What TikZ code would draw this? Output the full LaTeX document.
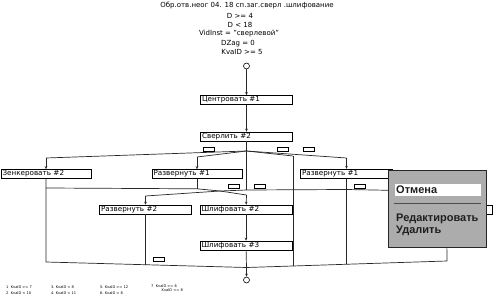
\documentclass[tikz,border=0pt]{standalone}
\usepackage{fontspec}
\setmainfont{DejaVu Sans}
\newfontfamily\popfont{Liberation Sans}
\usetikzlibrary{arrows.meta}
\definecolor{lncol}{RGB}{40,40,40}
\definecolor{popgray}{RGB}{172,172,172}
\tikzset{
  ln/.style={draw=lncol, line width=0.7pt},
  arr/.style={ln, -{Stealth[length=3pt,width=2.6pt]}},
  opbox/.style={draw=black, line width=0.6pt, fill=white, minimum width=92pt, minimum height=9pt,
     inner xsep=1.5pt, inner ysep=0pt, text width=89pt, align=left, font=\fontsize{7.2}{8}\selectfont},
  tag/.style={draw=black, line width=0.6pt, fill=white, minimum width=11pt, minimum height=3.5pt, inner sep=0pt},
  term/.style={circle, draw=black, line width=0.6pt, fill=white, minimum size=6pt, inner sep=0pt},
  hdr/.style={font=\fontsize{7}{8}\selectfont, inner sep=0pt},
  leg/.style={font=\fontsize{3.6}{4}\selectfont, inner sep=0pt, anchor=west},
  popt/.style={font=\popfont\bfseries\fontsize{11}{12}\selectfont, text=black!88, inner sep=0pt, anchor=base west}
}
\begin{document}
\begin{tikzpicture}[x=1pt,y=-1pt]
\useasboundingbox (0,0) rectangle (494,307);
\fill[white] (0,0) rectangle (494,307);
% header
\node[hdr] (h1) at (247,6) {Обр.отв.неог 04. 18 сп.заг.сверл .шлифование};
\node[hdr] (h2) at (240,15.5) {D >= 4};
\node[hdr] (h3) at (240,25) {D < 18};
\node[hdr] (h4) at (239,34) {VidInst = "сверлевой"};
\node[hdr] (h5) at (238,43.5) {DZag = 0};
\node[hdr] (h6) at (242,52.5) {KvaID >= 5};
% start
\node[term] (st) at (246.5,66) {};
\node[opbox] (c1) at (246.5,100) {Центровать \#1};
\node[opbox] (c2) at (246.5,136.5) {Сверлить \#2};
\draw[arr] (st) -- (c1);
\draw[arr] (c1) -- (c2);
% row 2
\node[opbox, minimum width=90pt, text width=87pt] (z2) at (46,174) {Зенкеровать \#2};
\node[opbox, minimum width=90pt, text width=87pt] (r1a) at (197,174) {Развернуть \#1};
% row 3
\node[opbox] (r2) at (145.5,209.5) {Развернуть \#2};
\node[opbox] (s2) at (246,209.5) {Шлифовать \#2};
\node[opbox] (s3) at (246,245.5) {Шлифовать \#3};
\node[opbox] (hb) at (446.5,209.5) {};
% first fork
\coordinate (f1) at (246.5,151);
\coordinate (b1) at (46,158);
\coordinate (b2) at (197,157);
\coordinate (b3) at (293,156);
\coordinate (b4) at (346.5,158);
\draw[ln] (c2) -- (f1);
\draw[ln] (f1) -- (b1); \draw[arr] (b1) -- (z2);
\draw[ln] (f1) -- (b2); \draw[arr] (b2) -- (r1a);
\draw[ln] (f1) -- (b3);
\draw[ln] (f1) -- (b4);
% second level
\coordinate (j1) at (246.5,190);
\coordinate (h0) at (46,188);
\coordinate (hh1) at (197,188.8);
\coordinate (v2) at (220,191);
\coordinate (hh3) at (346.5,189.5);
\coordinate (hh4) at (400,190.5);
\draw[ln] (f1) -- (j1);
\draw[ln] (r1a) -- (hh1);
\draw[ln] (h0) -- (hh1) -- (v2) -- (j1) -- (hh3) -- (hh4);
\coordinate (b5) at (145.5,196);
\coordinate (b6) at (246.5,195);
\draw[ln] (v2) -- (b5); \draw[arr] (b5) -- (r2);
\draw[ln] (v2) -- (b6); \draw[arr] (b6) -- (s2);
\draw[arr] (s2) -- (s3);
% bottom merge
\coordinate (m) at (246.5,267.5);
\coordinate (e1) at (46,262);
\coordinate (e2) at (145.5,264.8);
\coordinate (e3) at (293,265.8);
\coordinate (e4) at (346.5,264.2);
\coordinate (e5) at (447,261);
\draw[ln] (z2) -- (e1) -- (m);
\draw[ln] (r2) -- (e2);
\draw[ln] (b3) -- (e3);
\draw[ln] (e5) -- (m);
\draw[ln] (hb) -- (e5);
\draw[ln] (s3) -- (m);
\node[term] (fin) at (246.5,280) {};
\draw[arr] (m) -- (fin);
% selected box (drawn after lines)
\node[opbox, line width=1.4pt] (r1b) at (346.5,174) {Развернуть \#1};
\draw[arr] (b4) -- (r1b);
\draw[ln] (r1b) -- (e4);
% condition tags
\node[tag] (t1) at (208.5,149.5) {};
\node[tag] (t2) at (283,149.5) {};
\node[tag] (t3) at (309,149.5) {};
\node[tag] (t4) at (234,186.5) {};
\node[tag] (t5) at (259.5,186.5) {};
\node[tag] (t6) at (360,186.5) {};
\node[tag] (t7) at (159,259.5) {};
% popup menu
\node[draw=black!85, line width=0.8pt, fill=popgray, minimum width=98pt, minimum height=77pt, inner sep=0pt] (popup) at (437.5,209) {};
\node[fill=white, minimum width=86pt, minimum height=12pt, inner sep=0pt] (hl) at (437.5,190) {};
\coordinate (sepl) at (394,203);
\coordinate (sepr) at (481,203);
\draw[draw=black!70, line width=0.7pt] (sepl) -- (sepr);
\node[popt] (pm1) at (396,193.3) {Отмена};
\node[popt] (pm2) at (396,221.5) {Редактировать};
\node[popt] (pm3) at (396,233) {Удалить};
% legend
\node[leg] (l1) at (6,287) {1\ \ KvaID >= 7};
\node[leg] (l2) at (6,293) {2\ \ KvaID < 10};
\node[leg] (l3) at (51,287) {3.\ KvaID < 8};
\node[leg] (l4) at (51,293) {4.\ KvaID < 11};
\node[leg] (l5) at (100,287) {5.\ KvaID >= 12};
\node[leg] (l6) at (100,293) {6.\ KvaID < 8};
\node[leg] (l7) at (151,286.5) {7\ \ KvaID >= 6};
\node[leg] (l7b) at (161.5,290.5) {KvaID <= 8};
\end{tikzpicture}
\end{document}
